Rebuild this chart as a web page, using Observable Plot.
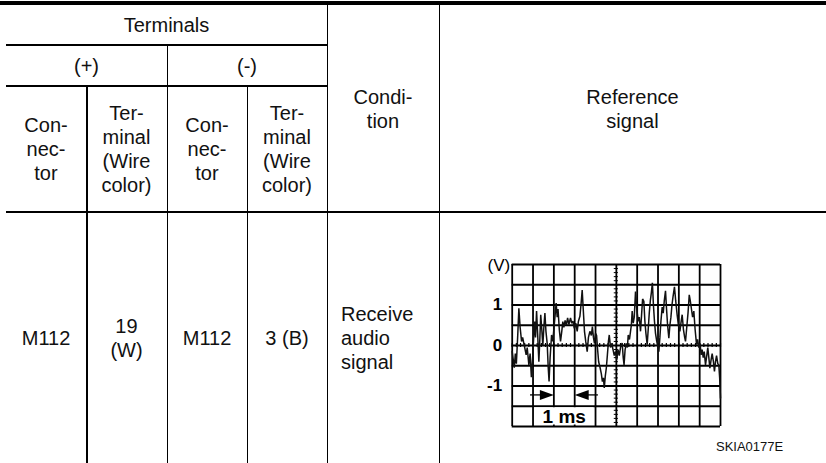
<!DOCTYPE html>
<html>
<head>
<meta charset="utf-8">
<script src="https://cdn.jsdelivr.net/npm/d3@7"></script>
<script src="https://cdn.jsdelivr.net/npm/@observablehq/plot@0.6"></script>
<style>
  html, body { margin: 0; padding: 0; background: #fff; }
  #page { position: relative; width: 826px; height: 463px; overflow: hidden; background: #fff;
          font-family: "Liberation Sans", Arial, sans-serif; color: #111; }
  .cell { position: absolute; display: flex; align-items: center; justify-content: center;
          text-align: center; white-space: pre-line; font-size: 20px; line-height: 24px; }
  .left { justify-content: flex-start; text-align: left; padding-left: 14px; box-sizing: border-box; }
  .hl, .vl { position: absolute; background: #000; }
  #scope { position: absolute; left: 460px; top: 250px; }
  #code { position: absolute; left: 716px; top: 440px; font-size: 13px; line-height: 13px; }
</style>
</head>
<body>
<div id="page"></div>
<script>
// ---- table content ----
const groupHeader = "Terminals";
const polarityHeaders = ["(+)", "(-)"];
const columnHeaders = ["Con-\nnec-\ntor", "Ter-\nminal\n(Wire\ncolor)", "Con-\nnec-\ntor", "Ter-\nminal\n(Wire\ncolor)"];
const conditionHeader = "Condi-\ntion";
const signalHeader = "Reference\nsignal";
const rowCells = ["M112", "19\n(W)", "M112", "3 (B)"];
const rowCondition = "Receive\naudio\nsignal";
const figureCode = "SKIA0177E";

// ---- oscilloscope trace (x in divisions, y in volts) ----
const traceDiv = [0.00,0.05,0.10,0.15,0.20,0.27,0.32,0.38,0.45,0.50,0.56,0.62,0.67,0.72,0.80,0.86,0.92,0.97,
  1.02,1.08,1.12,1.17,1.22,1.28,1.33,1.37,1.42,1.47,1.52,1.57,1.62,1.68,1.73,1.77,1.82,1.89,1.95,
  2.00,2.06,2.11,2.16,2.20,2.26,2.32,2.38,2.43,2.48,2.54,2.60,2.66,2.72,2.80,2.86,2.92,2.98,
  3.05,3.12,3.18,3.25,3.31,3.36,3.41,3.47,3.53,3.60,3.66,3.73,3.80,3.85,3.90,3.95,
  4.00,4.05,4.10,4.15,4.22,4.28,4.33,4.38,4.42,4.47,4.52,4.57,4.62,4.66,4.72,4.78,4.84,4.90,4.96,
  5.02,5.08,5.14,5.20,5.28,5.33,5.37,5.42,5.48,5.53,5.57,5.63,5.68,5.72,5.76,5.81,5.86,5.92,5.98,
  6.05,6.10,6.16,6.21,6.26,6.32,6.37,6.42,6.48,6.53,6.58,6.63,6.68,6.73,6.78,6.83,6.88,6.94,
  7.00,7.04,7.09,7.14,7.20,7.25,7.30,7.36,7.41,7.46,7.52,7.57,7.62,7.67,7.72,7.79,7.85,7.92,7.98,
  8.05,8.10,8.16,8.22,8.28,8.32,8.38,8.44,8.50,8.55,8.60,8.66,8.72,8.78,8.85,8.90,8.96,
  9.02,9.07,9.12,9.17,9.22,9.28,9.34,9.39,9.44,9.49,9.55,9.60,9.66,9.71,9.76,9.81,9.87,9.92,9.96,10.00];
const traceVolts = [-0.15,-0.35,-0.55,-0.20,-0.45,0.30,0.92,0.45,0.10,0.20,0.05,-0.10,-0.23,-0.05,-0.48,-0.20,-0.78,-0.40,
  0.10,0.59,0.20,0.85,0.30,-0.40,0.20,0.76,0.40,0.00,0.45,0.80,0.35,0.05,-0.55,-0.89,-0.30,0.26,0.10,
  0.40,0.75,1.05,0.70,0.90,0.40,0.10,0.35,0.59,0.45,0.62,0.50,0.68,0.52,0.68,0.55,0.60,0.42,
  0.55,0.35,0.60,0.72,1.05,1.37,0.90,0.35,0.10,-0.15,0.20,0.35,0.25,0.47,0.20,0.05,
  0.30,0.25,-0.10,-0.40,-0.55,-0.70,-0.89,-0.80,-1.05,-0.75,-0.55,-0.23,0.10,0.26,-0.05,0.05,-0.10,-0.25,-0.15,
  -0.35,-0.10,-0.25,-0.05,0.06,-0.30,-0.48,-0.10,0.05,-0.05,0.26,0.15,0.35,0.50,0.85,0.55,0.70,1.33,0.90,
  0.60,0.70,0.35,0.75,1.15,1.09,0.60,0.30,0.02,0.40,0.80,1.10,1.30,1.55,1.00,0.60,0.30,0.10,
  -0.05,-0.15,0.20,0.60,0.95,0.80,1.10,1.35,0.90,0.50,0.18,0.50,0.70,1.00,1.20,1.45,1.10,0.75,0.50,
  0.35,0.55,0.76,0.40,0.20,0.10,0.45,0.80,1.25,1.10,0.92,0.70,0.85,0.40,0.02,0.15,-0.05,
  0.05,-0.23,-0.10,-0.30,-0.15,-0.48,-0.25,-0.05,-0.30,-0.56,-0.35,-0.20,-0.40,-0.64,-0.40,-0.25,-0.45,-0.48,-0.80,-1.30];
const voltTicks = [1, 0, -1];
const voltTickLabels = ["1", "0", "-1"];
const voltUnit = "(V)";
const spanLabel = "1 ms";
const gridDivX = [0,1,2,3,4,5,6,7,8,9,10];
const gridDivY = [-2,-1.5,-1,-0.5,0,0.5,1,1.5,2];

// ---- build table ----
const page = document.getElementById("page");
function cell(text, x, y, w, h, cls) {
  const d = document.createElement("div");
  d.className = "cell" + (cls ? " " + cls : "");
  Object.assign(d.style, {left: x + "px", top: y + "px", width: w + "px", height: h + "px"});
  d.textContent = text;
  page.appendChild(d);
}
function hline(x1, x2, y, t) {
  const d = document.createElement("div"); d.className = "hl";
  Object.assign(d.style, {left: x1 + "px", top: y + "px", width: (x2 - x1) + "px", height: t + "px"});
  page.appendChild(d);
}
function vline(x, y1, y2, t) {
  const d = document.createElement("div"); d.className = "vl";
  Object.assign(d.style, {left: x + "px", top: y1 + "px", width: t + "px", height: (y2 - y1) + "px"});
  page.appendChild(d);
}
const colX = [6, 86, 167, 247, 327, 439, 826];
cell(groupHeader, 6, 5, 321, 40);
cell(polarityHeaders[0], 6, 45, 161, 41);
cell(polarityHeaders[1], 167, 45, 160, 41);
columnHeaders.forEach((t, i) => cell(t, colX[i], 86, colX[i + 1] - colX[i], 126));
cell(conditionHeader, 327, 5, 112, 207);
cell(signalHeader, 439, 5, 387, 207);
rowCells.forEach((t, i) => cell(t, colX[i], 212, colX[i + 1] - colX[i], 251));
cell(rowCondition, 327, 212, 112, 251, "left");

hline(0, 826, 1, 4);
hline(6, 327, 44, 2);
hline(6, 327, 85, 2);
hline(6, 826, 211, 2);
vline(86, 86, 463, 1.5);
vline(166.5, 45, 463, 1.5);
vline(246.5, 86, 463, 1.5);
vline(326.5, 5, 463, 1.5);
vline(438.5, 5, 463, 1.5);

const code = document.createElement("div"); code.id = "code"; code.textContent = figureCode; page.appendChild(code);

// ---- oscilloscope with Plot ----
const trace = traceDiv.map((x, i) => ({x, v: traceVolts[i]}));
const subX = d3.range(0, 10.001, 0.2);
const subY = d3.range(-2, 2.001, 0.1);
const arrowRight = {draw(ctx) { ctx.moveTo(0, 0); ctx.lineTo(-14, -5); ctx.lineTo(-14, 5); ctx.closePath(); }};
const arrowLeft = {draw(ctx) { ctx.moveTo(0, 0); ctx.lineTo(14, -5); ctx.lineTo(14, 5); ctx.closePath(); }};

const scope = Plot.plot({
  width: 265, height: 190,
  marginLeft: 51.7, marginRight: 5, marginTop: 14, marginBottom: 14,
  x: {domain: [0, 10], axis: null},
  y: {domain: [-2, 2], axis: null},
  style: {fontFamily: "Liberation Sans, Arial, sans-serif", color: "#000", background: "transparent"},
  marks: [
    Plot.ruleX(gridDivX, {x: d => d, y1: -2, y2: 2, stroke: "#000", strokeWidth: 1.8, strokeOpacity: 1}),
    Plot.ruleY(gridDivY, {y: d => d, x1: 0, x2: 10, stroke: "#000", strokeWidth: 1.8, strokeOpacity: 1}),
    Plot.ruleY(subY, {y: d => d, x1: 4.9, x2: 5.1, stroke: "#000", strokeWidth: 1}),
    Plot.ruleX(subX, {x: d => d, y1: -0.05, y2: 0.05, stroke: "#000", strokeWidth: 1.2}),
    Plot.rect([spanLabel], {x1: 1, x2: 4, y1: -2, y2: -1.5, fill: "#fff", insetLeft: 1.5, insetRight: 1.5, insetTop: 1.5, insetBottom: 1.5}),
    Plot.line(trace, {x: "x", y: "v", stroke: "#111", strokeWidth: 1.5, strokeLinejoin: "miter"}),
    Plot.ruleY([-1.22], {x1: 0.88, x2: 1.4, stroke: "#000", strokeWidth: 1.3}),
    Plot.ruleY([-1.22], {x1: 3.6, x2: 4.14, stroke: "#000", strokeWidth: 1.3}),
    Plot.dot([-1.22], {x: 2.0, y: d => d, r: 1, symbol: arrowRight, fill: "#000", stroke: null}),
    Plot.dot([-1.22], {x: 3.0, y: d => d, r: 1, symbol: arrowLeft, fill: "#000", stroke: null}),
    Plot.text([spanLabel], {x: 2.5, y: -1.76, text: d => d, fontSize: 19, fontWeight: "bold", fill: "#000"}),
    Plot.text(voltTicks, {x: 0, y: d => d, text: (d, i) => voltTickLabels[i], dx: -10, textAnchor: "end", fontSize: 17, fontWeight: "bold", fill: "#000"}),
    Plot.text([voltUnit], {x: 0, y: 2, text: d => d, dx: -2, dy: 1, textAnchor: "end", fontSize: 17, fill: "#000"})
  ]
});
scope.id = "scope";
page.appendChild(scope);
</script>
</body>
</html>
